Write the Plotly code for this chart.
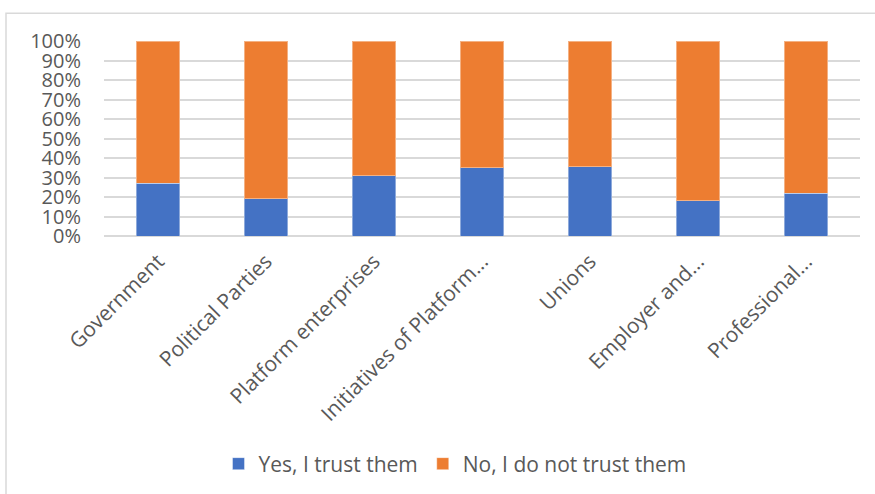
import plotly.graph_objects as go

categories = ["Government", "Political Parties", "Platform enterprises",
              "Initiatives of Platform...", "Unions", "Employer and...", "Professional..."]
yes_trust = [27, 19, 31, 35, 35.5, 18, 22]
no_trust = [73, 81, 69, 65, 64.5, 82, 78]
tick_vals = list(range(0, 101, 10))
tick_text = [f"{v}%" for v in tick_vals]

W, H = 875, 494
L, R, T, B = 104, 860, 41, 237

fig = go.Figure()
fig.add_trace(go.Bar(x=categories, y=yes_trust, name="Yes, I trust them",
                     marker=dict(color="#4472C4", line=dict(color="rgba(255,255,255,0.4)", width=1))))
fig.add_trace(go.Bar(x=categories, y=no_trust, name="No, I do not trust them",
                     marker=dict(color="#ED7D31", line=dict(color="rgba(255,255,255,0.4)", width=1))))

font_family = "'Open Sans', sans-serif"
pw, ph = R - L, B - T
fig.update_layout(
    width=W, height=H,
    barmode="stack", bargap=0.6,
    margin=dict(l=L, r=W - R, t=T, b=H - B),
    plot_bgcolor="white", paper_bgcolor="white",
    font=dict(family=font_family, color="#595959", size=21),
    showlegend=True,
    legend=dict(orientation="h", x=(455 - L) / pw, xanchor="center",
                y=(B - 464) / ph, yanchor="middle",
                font=dict(size=21, color="#595959"), traceorder="normal",
                itemwidth=30),
    xaxis=dict(tickangle=-45, showgrid=False, showline=False, ticks="",
               ticklabelstandoff=8,
               tickfont=dict(size=21, color="#595959")),
    yaxis=dict(range=[0, 100], tickvals=tick_vals, ticktext=tick_text,
               showgrid=True, gridcolor="#D9D9D9", gridwidth=1.5,
               zeroline=True, zerolinecolor="#D9D9D9", zerolinewidth=1.5,
               ticklabelstandoff=22,
               tickfont=dict(size=20, color="#595959"), ticks="", ticklen=0),
)

# chart frame
fig.add_shape(type="rect", xref="paper", yref="paper",
              x0=(6 - L) / pw, x1=(880 - L) / pw,
              y0=(B - 500) / ph, y1=(B - 13) / ph,
              line=dict(color="#D9D9D9", width=1.5), fillcolor="rgba(0,0,0,0)", layer="below")

fig.write_html("out.html")
